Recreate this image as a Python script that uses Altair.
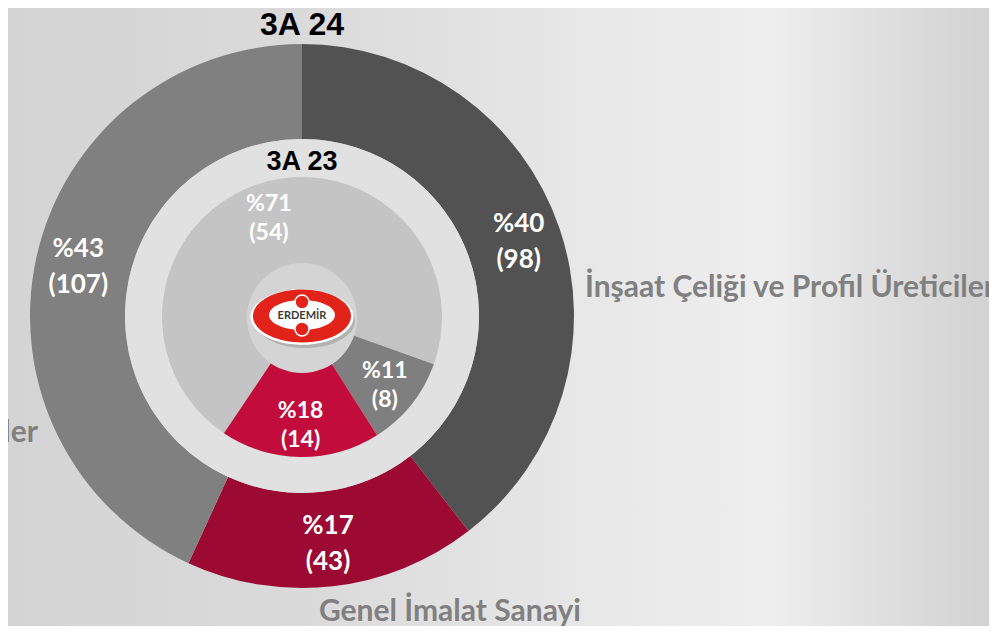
import math
import pandas as pd
import altair as alt

# ---------------- data ----------------
outer_title = "3A 24"
inner_title = "3A 23"
categories = ["İnşaat Çeliği ve Profil Üreticileri", "Genel İmalat Sanayi", "Yeniden Haddeciler"]

outer_values = [98, 43, 107]
outer_pcts = [40, 17, 43]
outer_colors = ["#525252", "#9c0a33", "#808080"]

inner_cats = ["İnşaat Çeliği ve Profil Üreticileri", "Yeniden Haddeciler", "Genel İmalat Sanayi"]
inner_values = [54, 8, 14]
inner_pcts = [71, 11, 18]
inner_colors = ["#c4c4c4", "#7f7f7f", "#c20c3c"]

# ---------------- layout ----------------
W, H = 981, 618
CX, CY = 294, 308
R_OUT, R_OUT_IN = 272, 177
R_IN = 140
inner_start = math.radians(213.9)

outer_df = pd.DataFrame({
    "cat": categories, "v": outer_values, "c": outer_colors, "i": list(range(3)),
    "lab": [f"%{p}\n({v})" for p, v in zip(outer_pcts, outer_values)],
})
inner_df = pd.DataFrame({
    "cat": inner_cats, "v": inner_values, "c": inner_colors, "i": list(range(3)),
    "lab": [f"%{p}\n({v})" for p, v in zip(inner_pcts, inner_values)],
})
one = pd.DataFrame({"a": [0]})

bg_grad = {
    "gradient": "linear", "x1": 0, "x2": 1, "y1": 0, "y2": 0,
    "stops": [
        {"offset": 0.0, "color": "#d4d4d4"},
        {"offset": 0.3, "color": "#dadada"},
        {"offset": 0.6, "color": "#e8e8e8"},
        {"offset": 0.78, "color": "#eeeeee"},
        {"offset": 0.9, "color": "#dedede"},
        {"offset": 1.0, "color": "#d2d2d2"},
    ],
}
bg = alt.Chart(one).mark_rect(color=bg_grad).encode(
    x=alt.value(0), x2=alt.value(W), y=alt.value(0), y2=alt.value(H)
)

theta_o = alt.Theta("v:Q", stack=True, scale=alt.Scale(range=[0, 2 * math.pi]))
outer_arc = alt.Chart(outer_df).mark_arc(outerRadius=R_OUT, innerRadius=R_OUT_IN).encode(
    theta=theta_o, color=alt.Color("c:N", scale=None), order=alt.Order("i:Q"),
    x=alt.value(CX), y=alt.value(CY),
)
outer_txt = alt.Chart(outer_df).mark_text(
    radius=229, font="Lato", fontSize=26, fontWeight="bold", color="white",
    lineBreak="\n", lineHeight=36, baseline="middle", dy=-18,
).encode(theta=theta_o, text="lab:N", order=alt.Order("i:Q"), x=alt.value(CX), y=alt.value(CY))
outer = alt.layer(outer_arc, outer_txt)

# symbol size = (diameter)^2 in Vega
ring = alt.Chart(one).mark_circle(size=(2 * R_OUT_IN) ** 2, color="#e1e1e1", opacity=1).encode(
    x=alt.value(CX), y=alt.value(CY)
)

theta_i = alt.Theta("v:Q", stack=True, scale=alt.Scale(range=[inner_start, inner_start + 2 * math.pi]))
inner_arc = alt.Chart(inner_df).mark_arc(outerRadius=R_IN, innerRadius=0).encode(
    theta=theta_i, color=alt.Color("c:N", scale=None), order=alt.Order("i:Q"),
    x=alt.value(CX), y=alt.value(CY + 1),
)
inner_txt = alt.Chart(inner_df).mark_text(
    radius=106, font="Lato", fontSize=23, fontWeight="bold", color="white",
    lineBreak="\n", lineHeight=29, baseline="middle", dy=-12,
).encode(theta=theta_i, text="lab:N", order=alt.Order("i:Q"), x=alt.value(CX), y=alt.value(CY + 1))
inner = alt.layer(inner_arc, inner_txt)

center = alt.Chart(one).mark_circle(size=110 ** 2, color="#d4d4d4", opacity=1).encode(
    x=alt.value(CX), y=alt.value(CY + 2)
)

ell = "M -1 0 A 1 0.54 0 1 0 1 0 A 1 0.54 0 1 0 -1 0 Z"
ell_in = "M -1 0 A 1 0.455 0 1 0 1 0 A 1 0.455 0 1 0 -1 0 Z"
shadow = alt.Chart(one).mark_point(shape=ell, size=100 ** 2, filled=True, color="#8a8a8a", opacity=0.45).encode(
    x=alt.value(CX + 3), y=alt.value(CY + 5)
)
white_bg = alt.Chart(one).mark_point(shape=ell, size=103 ** 2, filled=True, color="#ffffff", opacity=1).encode(
    x=alt.value(CX), y=alt.value(CY + 1)
)
red_ell = alt.Chart(one).mark_point(shape=ell, size=98 ** 2, filled=True, color="#e2231a", opacity=1).encode(
    x=alt.value(CX), y=alt.value(CY)
)
white_ell = alt.Chart(one).mark_point(shape=ell_in, size=66 ** 2, filled=True, color="#ffffff", opacity=1).encode(
    x=alt.value(CX), y=alt.value(CY - 1)
)
dot_top = alt.Chart(one).mark_circle(
    size=14 ** 2, color="#e2231a", opacity=1, stroke="white", strokeWidth=1.5
).encode(x=alt.value(CX), y=alt.value(CY - 14))
dot_bot = alt.Chart(one).mark_circle(
    size=14 ** 2, color="#e2231a", opacity=1, stroke="white", strokeWidth=1.5
).encode(x=alt.value(CX), y=alt.value(CY + 13))
logo_txt = alt.Chart(one).mark_text(
    text="ERDEMİR", font="Lato", fontSize=11, fontWeight="bold", color="#3a3a3a", baseline="middle"
).encode(x=alt.value(CX), y=alt.value(CY))

t24 = alt.Chart(one).mark_text(
    text=outer_title, font="Liberation Sans", fontSize=32, fontWeight="bold", color="#000000",
    baseline="alphabetic",
).encode(x=alt.value(CX), y=alt.value(27))
t23 = alt.Chart(one).mark_text(
    text=inner_title, font="Liberation Sans", fontSize=27, fontWeight="bold", color="#000000",
    baseline="alphabetic",
).encode(x=alt.value(CX), y=alt.value(162))

lab_right = alt.Chart(one).mark_text(
    text=categories[0], font="Lato", fontSize=30, fontWeight="bold", color="#808080",
    align="left", baseline="alphabetic",
).encode(x=alt.value(577), y=alt.value(289))
lab_bottom = alt.Chart(one).mark_text(
    text=categories[1], font="Lato", fontSize=30, fontWeight="bold", color="#808080",
    align="left", baseline="alphabetic",
).encode(x=alt.value(311), y=alt.value(613))
lab_left = alt.Chart(one).mark_text(
    text=categories[2], font="Lato", fontSize=30, fontWeight="bold", color="#808080",
    align="right", baseline="alphabetic",
).encode(x=alt.value(30), y=alt.value(434))

chart = alt.layer(
    bg, outer, ring, inner, center, shadow, white_bg, red_ell, white_ell, dot_top, dot_bot, logo_txt,
    t24, t23, lab_right, lab_bottom, lab_left,
).resolve_scale(theta="independent").properties(
    width=W, height=H, padding=0, autosize=alt.AutoSizeParams(type="none"), background="#d8d8d8",
).configure_view(stroke=None)

chart.save("out.html", embed_options={"renderer": "svg", "actions": False})
